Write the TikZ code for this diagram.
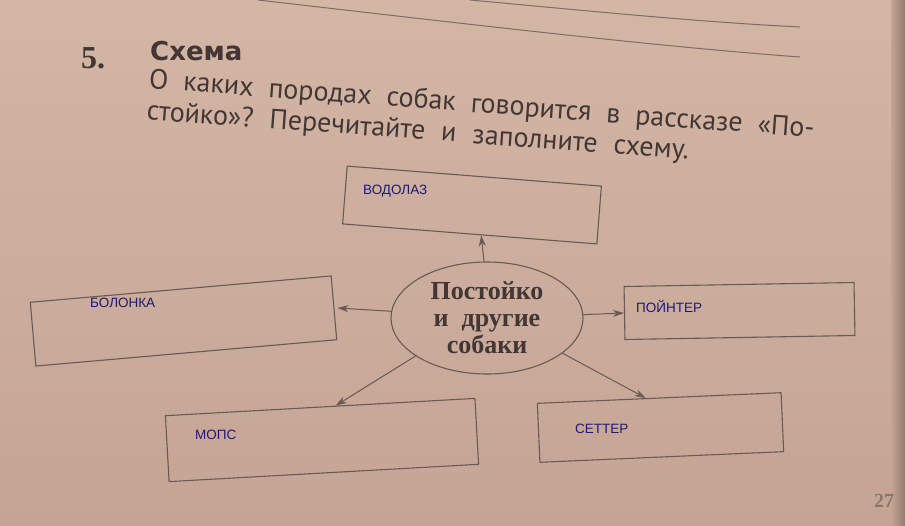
\documentclass[tikz,border=0pt]{standalone}
\usepackage{fontspec}
\setmainfont{Liberation Serif}
\newfontfamily\booksans{PT Sans}
\newfontfamily\headsans{DejaVu Sans}
\newfontfamily\penfont{Liberation Sans}
\usetikzlibrary{shapes.geometric,arrows.meta,calc}
\definecolor{paper}{RGB}{212,182,165}
\definecolor{paperdark}{RGB}{197,164,148}
\definecolor{ink}{RGB}{66,55,53}
\definecolor{rule}{RGB}{105,90,85}
\definecolor{pen}{RGB}{28,26,118}

\begin{document}
\begin{tikzpicture}[x=1pt,y=-1pt,
box/.style={draw=rule, line width=1.1pt, inner sep=0pt},
answer/.style={font=\penfont\fontsize{13.5}{16}\selectfont, text=pen, anchor=base west, inner sep=0pt},
link/.style={draw=rule, line width=1pt, -{Stealth[length=11pt,width=7pt]}}]
\shade[top color=paper, bottom color=paperdark] (0,0) rectangle (905,525);
\shade[left color=paperdark, right color=paperdark!75!black] (891,0) rectangle (905,525);
\useasboundingbox (0,0) rectangle (905,525);
\draw[rule!80!paper, line width=1pt] (258,0) .. controls (450,22) and (650,46) .. (800,57);
\draw[rule!80!paper, line width=1pt] (470,0) .. controls (600,12) and (700,22) .. (800,27);

\node[font=\bfseries\fontsize{32}{34}\selectfont, text=ink, anchor=base west, inner sep=0pt] (number) at (81,68) {5.};
\node[font=\headsans\bfseries\fontsize{26}{28}\selectfont, text=ink, anchor=base west, inner sep=0pt] (title) at (150,60) {Схема};
\node[font=\booksans\fontsize{28}{31}\selectfont, text=ink, anchor=north west, inner sep=0pt,
  text width=667pt, align=justify, rotate=-4.2] (task) at (150,68)
  {\spaceskip=16pt plus 12pt minus 5pt\xspaceskip=\spaceskip
   О каких породах собак говорится в~рассказе «По-\linebreak стойко»? Перечитайте и~заполните схему.};

\node[ellipse, draw=rule, line width=1.1pt, minimum width=192pt, minimum height=112pt, inner sep=0pt,
  align=center, text=ink, font=\bfseries\fontsize{26}{27}\selectfont] (centre) at (487,318)
  {Постойко\\и\ \ другие\\собаки};

\node[box, minimum width=255pt, minimum height=58pt, rotate=-4.5] (vodolaz) at (472,205) {};
\node[box, minimum width=302pt, minimum height=64pt, rotate=5] (bolonka) at (183.5,321) {};
\node[box, minimum width=230pt, minimum height=53pt, rotate=1] (pointer) at (739.5,311) {};
\node[box, minimum width=310pt, minimum height=66pt, rotate=3.2] (mops) at (322,440) {};
\node[box, minimum width=244pt, minimum height=59pt, rotate=2.5] (setter) at (660.5,427.5) {};

\node[answer] (dog1) at (363,194) {ВОДОЛАЗ};
\node[answer] (dog2) at (90,307) {БОЛОНКА};
\node[answer] (dog3) at (636,312) {ПОЙНТЕР};
\node[answer] (dog4) at (195,439) {МОПС};
\node[answer] (dog5) at (575,433) {СЕТТЕР};

\draw[link] (centre.93) -- ($(vodolaz.south)!0.09!(vodolaz.south east)$);
\draw[link, shorten >=3pt] (centre.176) -- (bolonka.east);
\draw[link] (centre.2) -- (pointer.west);
\draw[link] (centre.208) -- ($(mops.north)!0.1!(mops.north east)$);
\draw[link] (centre.335) -- ($(setter.north)!0.11!(setter.north west)$);

\node[font=\bfseries\fontsize{20}{22}\selectfont, text=rule!70!paper, anchor=base, inner sep=0pt] (page) at (884,507) {27};
\end{tikzpicture}
\end{document}
